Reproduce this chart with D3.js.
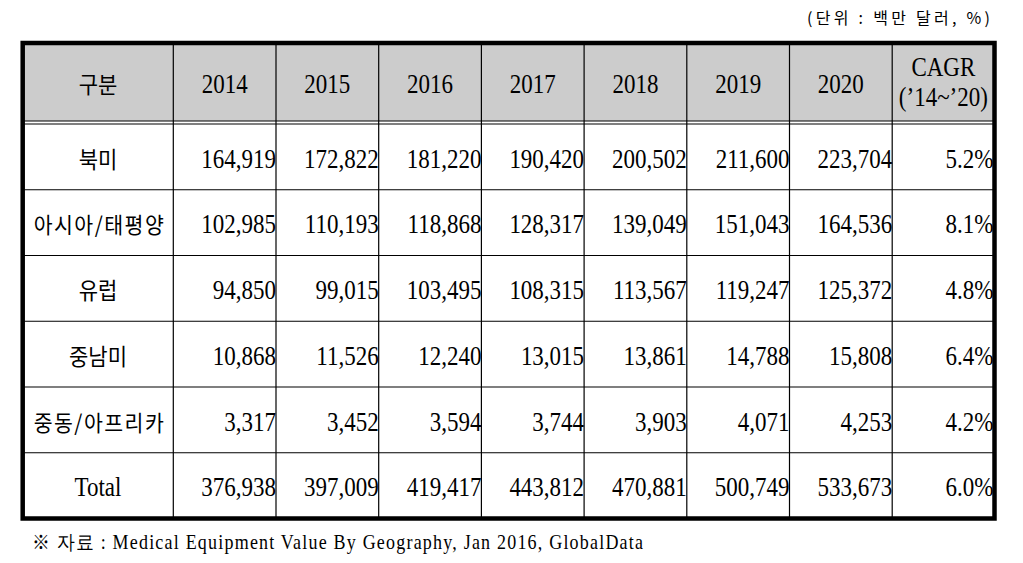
<!DOCTYPE html>
<html>
<head>
<meta charset="utf-8">
<script src="https://cdn.jsdelivr.net/npm/d3@7"></script>
<style>
  body { margin: 0; background: #fff; }
  svg { display: block; }
</style>
</head>
<body>
<div id="chart"></div>
<script>
// table values
const years = ["2014", "2015", "2016", "2017", "2018", "2019", "2020"]
const regions = ["북미", "아시아/태평양", "유럽", "중남미", "중동/아프리카", "Total"]
const values = [
  [164919, 172822, 181220, 190420, 200502, 211600, 223704],
  [102985, 110193, 118868, 128317, 139049, 151043, 164536],
  [94850, 99015, 103495, 108315, 113567, 119247, 125372],
  [10868, 11526, 12240, 13015, 13861, 14788, 15808],
  [3317, 3452, 3594, 3744, 3903, 4071, 4253],
  [376938, 397009, 419417, 443812, 470881, 500749, 533673]
]
const cagr = [5.2, 8.1, 4.8, 6.4, 4.2, 6.0]

const unitLabel = "(단위 : 백만 달러, %)"
const sourceLabel = "※ 자료 : Medical Equipment Value By Geography, Jan 2016, GlobalData"

const W = 1023, H = 563
const serif = "'Liberation Serif', 'DejaVu Serif', serif"
const kor = "'Noto Sans CJK KR', sans-serif"

const svg = d3.select("#chart").append("svg")
  .attr("width", W).attr("height", H)

// column index -> x of its right edge (col 0 = label column)
const colRight = d3.scaleLinear().domain([0, 7]).range([173.3, 892.2])
const tableLeft = 22.7, tableRight = 994.5
const colLeft = i => i === 0 ? tableLeft : colRight(i - 1)
const colEnd = i => i === 8 ? tableRight : colRight(i)

const tableTop = 43, headBottom = 121
const rowTop = d3.scaleLinear().domain([0, 6]).range([124, 518.5])

// header fill
svg.append("rect")
  .attr("x", tableLeft).attr("y", tableTop)
  .attr("width", tableRight - tableLeft).attr("height", headBottom - tableTop)
  .attr("fill", "#cccccc")

const lines = svg.append("g").attr("stroke", "#000").attr("stroke-width", 1.2)

// vertical inner lines
lines.selectAll(".v")
  .data(d3.range(8))
  .enter().append("line")
    .attr("x1", d => colRight(d)).attr("x2", d => colRight(d))
    .attr("y1", tableTop).attr("y2", rowTop(6))

// double line under header
lines.selectAll(".dbl")
  .data([headBottom, rowTop(0)])
  .enter().append("line")
    .attr("x1", tableLeft).attr("x2", tableRight)
    .attr("y1", d => d).attr("y2", d => d)

// row separators
lines.selectAll(".h")
  .data(d3.range(1, 6))
  .enter().append("line")
    .attr("x1", tableLeft).attr("x2", tableRight)
    .attr("y1", d => rowTop(d)).attr("y2", d => rowTop(d))

// text helper: serif glyphs in the reference are tall and narrow
function addText(g, x, y, str, opt) {
  const sy = opt.sy || 1.2
  return g.append("text")
    .attr("transform", `translate(${x},${y}) scale(1,${sy})`)
    .attr("text-anchor", opt.anchor || "middle")
    .attr("dominant-baseline", "central")
    .attr("font-family", opt.font || serif)
    .attr("font-size", opt.size || 23)
    .attr("letter-spacing", opt.ls || 0)
    .attr("fill", "#000")
    .text(str)
}

const txt = svg.append("g")
const headMid = (tableTop + headBottom) / 2 + 1

addText(txt, (colLeft(0) + colEnd(0)) / 2, headMid, "구분", {font: kor, size: 21, sy: 1.08})
years.forEach((y, i) => {
  addText(txt, (colLeft(i + 1) + colEnd(i + 1)) / 2, headMid, y, {})
})
addText(txt, (colLeft(8) + colEnd(8)) / 2, 66, "CAGR", {})
addText(txt, (colLeft(8) + colEnd(8)) / 2, 96, "(\u201914~\u201920)", {})

regions.forEach((r, ri) => {
  const cy = (rowTop(ri) + rowTop(ri + 1)) / 2 + 1
  if (r === "Total") {
    addText(txt, (colLeft(0) + colEnd(0)) / 2, cy, r, {})
  } else {
    const long = r.length > 3
    addText(txt, (colLeft(0) + colEnd(0)) / 2 + (long ? 1.5 : 0), cy, r,
      {font: kor, size: long ? 20.5 : 21, sy: 1.08, ls: long ? 1.5 : 0})
  }
  values[ri].forEach((v, ci) => {
    addText(txt, colEnd(ci + 1), cy, d3.format(",")(v), {anchor: "end"})
  })
  addText(txt, colEnd(8) - 1, cy, d3.format(".1f")(cagr[ri]) + "%", {anchor: "end"})
})

// thick outer border
svg.append("rect")
  .attr("x", tableLeft).attr("y", tableTop)
  .attr("width", tableRight - tableLeft).attr("height", rowTop(6) - tableTop)
  .attr("fill", "none").attr("stroke", "#000").attr("stroke-width", 4.5)

// unit label and source note
svg.append("text")
  .attr("x", 807).attr("y", 24)
  .attr("font-family", kor)
  .attr("font-size", 16)
  .attr("textLength", 183)
  .attr("lengthAdjust", "spacing")
  .text(unitLabel)

svg.append("text")
  .attr("transform", "translate(32,549) scale(1,1.12)")
  .attr("font-family", serif)
  .attr("font-size", 18)
  .attr("textLength", 611)
  .attr("lengthAdjust", "spacing")
  .text(sourceLabel)
</script>
</body>
</html>
